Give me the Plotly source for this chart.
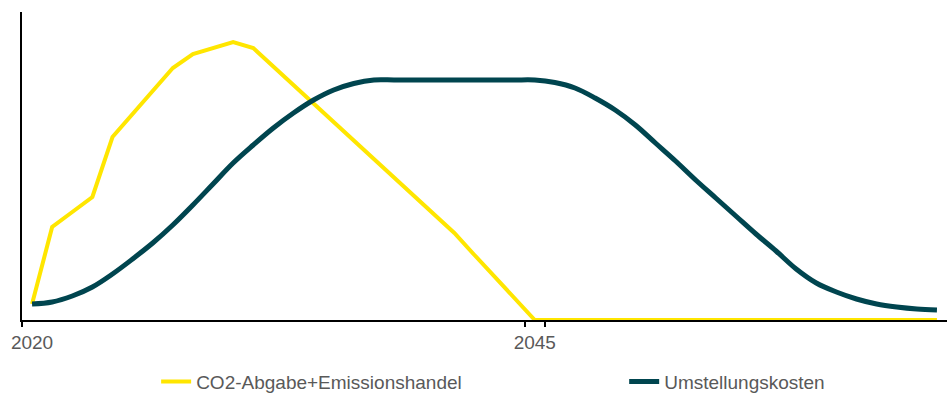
import plotly.graph_objects as go

years = [str(y) for y in range(2020, 2066)]

co2_abgabe = [16, 93, 108, 123, 183, 206, 229, 252, 266, 272, 278, 272,
              253.5, 235, 216.5, 198, 179.5, 161, 142.5, 124, 105.5, 87,
              65, 43.5, 22, 0] + [0] * 20

umstellung = [16, 18, 24, 33, 46, 61, 77, 95, 115, 136, 157, 175,
              192, 207, 220, 230, 236.5, 240, 240, 240, 240, 240, 240, 240,
              240, 240, 237.5, 232, 222, 210, 195, 177, 159, 140, 122, 104,
              86, 69, 51, 37, 28, 21, 16, 13, 11, 10]

tick_labels = ["2020", "2045"]

fig = go.Figure()
fig.add_trace(go.Scatter(
    x=years, y=co2_abgabe, mode="lines", name="CO2-Abgabe+Emissionshandel",
    line=dict(color="#FFE600", width=4), legend="legend",
))
fig.add_trace(go.Scatter(
    x=years, y=umstellung, mode="lines", name="Umstellungskosten",
    line=dict(color="#00454F", width=5, shape="spline", smoothing=1.0),
    legend="legend2",
))

leg_common = dict(orientation="h", yanchor="middle", y=-0.2, xanchor="left",
                  font=dict(size=19, color="#595959"), bgcolor="rgba(0,0,0,0)")

fig.update_layout(
    width=948, height=394,
    margin=dict(l=22, r=1, t=12, b=74, autoexpand=False),
    paper_bgcolor="white", plot_bgcolor="white",
    font=dict(family="Liberation Sans, Arial, sans-serif", color="#595959"),
    showlegend=True,
    legend=dict(x=0.145, **leg_common),
    legend2=dict(x=0.651, **leg_common),
    xaxis=dict(
        type="category", range=[-0.5, 45.5],
        tickmode="array", tickvals=tick_labels, ticktext=tick_labels,
        tickson="boundaries", ticks="outside", ticklen=5, tickwidth=2, tickcolor="black",
        tickangle=0, automargin=False, ticklabelstandoff=4,
        showline=True, linecolor="black", linewidth=2,
        showgrid=False, zeroline=False,
        tickfont=dict(size=19, color="#595959"),
    ),
    yaxis=dict(
        range=[0, 308], showline=True, linecolor="black", linewidth=1.5,
        showticklabels=False, ticks="", showgrid=False, zeroline=False,
        automargin=False,
    ),
)

fig.write_html("out.html")
